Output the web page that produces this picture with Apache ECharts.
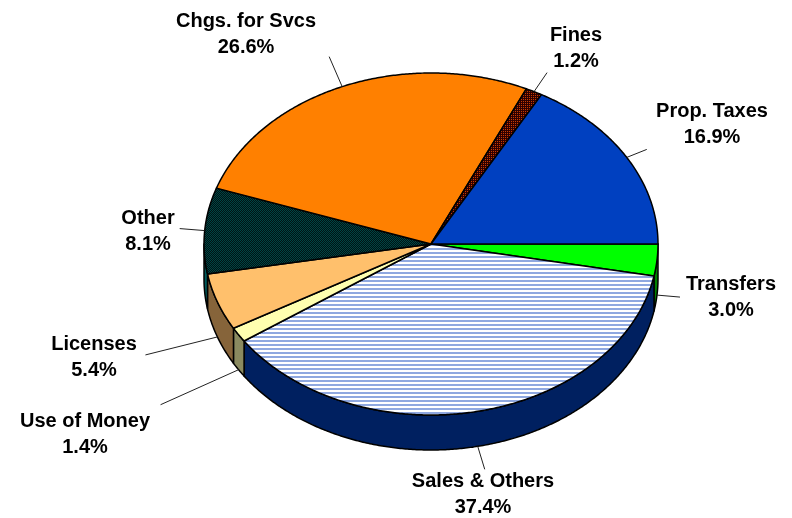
<!DOCTYPE html>
<html>
<head>
<meta charset="utf-8">
<style>html,body{margin:0;padding:0;background:#fff}#chart{width:792px;height:518px}</style>
<script src="https://cdn.jsdelivr.net/npm/echarts@6/dist/echarts.min.js"></script>
</head>
<body>
<div id="chart"></div>
<script>
// Revenue sources, clockwise from the east edge of the pie
const categories = ['Transfers', 'Sales & Others', 'Use of Money', 'Licenses', 'Other', 'Chgs. for Svcs', 'Fines', 'Prop. Taxes'];
const shares = [3.0, 37.4, 1.4, 5.4, 8.1, 26.6, 1.2, 16.9];

// Slice appearance
const sideColors = ['#008000', '#002060', '#8A8A60', '#86643A', '#005C5C', '#804000', '#601000', '#002080'];

// Label centres and the outer ends of the leader lines, in pixels
const labelCentres = [[731, 297], [483, 494], [85, 434], [94, 357], [148, 231], [246, 34], [576, 48], [712, 124]];
const leaderOffsets = [[23, 2], [7, 23], [-78, 35], [-72, 18], [-25, -2], [-13, -30], [13, -19], [20, -8]];

const DEPTH = 35;

function tile(size, paint) {
  const c = document.createElement('canvas');
  c.width = c.height = size;
  paint(c.getContext('2d'));
  return { image: c, repeat: 'repeat' };
}
const stripes = tile(4, g => {
  g.fillStyle = '#fff'; g.fillRect(0, 0, 4, 4);
  g.fillStyle = '#8FA8E0'; g.fillRect(0, 0, 4, 2);
});
const teal = tile(2, g => {
  g.fillStyle = '#001414'; g.fillRect(0, 0, 2, 2);
  g.fillStyle = '#004444'; g.fillRect(0, 0, 1, 1); g.fillRect(1, 1, 1, 1);
});
const hatch = tile(4, g => {
  g.fillStyle = '#C83C00'; g.fillRect(0, 0, 4, 4);
  g.fillStyle = '#300000'; g.fillRect(0, 0, 4, 1); g.fillRect(0, 2, 4, 1);
  g.fillRect(0, 0, 1, 4); g.fillRect(2, 0, 1, 4);
});
const topFills = ['#00FF00', stripes, '#FFFFB0', '#FFC06C', teal, '#FF8000', hatch, '#0040C0'];

const total = shares.reduce((a, b) => a + b, 0);
const starts = [];
shares.reduce((acc, v, i) => { starts[i] = acc; return acc + v; }, 0);
const toAngle = v => v / total * Math.PI * 2;

function renderSlice(params, api) {
  const i = params.dataIndex;
  const a0 = toAngle(starts[i]);
  const a1 = toAngle(starts[i] + api.value(0));
  const rim = a => api.coord([Math.cos(a), -Math.sin(a)]);
  const arc = (from, to) => {
    const n = Math.max(2, Math.ceil((to - from) / 0.008));
    const pts = [];
    for (let k = 0; k <= n; k++) pts.push(rim(from + (to - from) * k / n));
    return pts;
  };
  const children = [];

  // Outer wall: only the part of the slice on the near half of the rim shows
  const w1 = Math.min(a1, Math.PI);
  if (a0 < Math.PI) {
    const upper = arc(a0, w1);
    const lower = upper.map(p => [p[0], p[1] + DEPTH]).reverse();
    children.push({
      type: 'polygon',
      shape: { points: upper.concat(lower) },
      style: { fill: sideColors[i], stroke: '#000', lineWidth: 1.5, lineJoin: 'round' }
    });
  }

  // Top face
  children.push({
    type: 'polygon',
    shape: { points: [api.coord([0, 0])].concat(arc(a0, a1)) },
    style: { fill: topFills[i], stroke: '#000', lineWidth: 1.5, lineJoin: 'round' }
  });

  // Leader line starts on the visible edge at the slice's mid-angle
  const mid = (a0 + a1) / 2;
  const p = rim(mid);
  const y0 = p[1] + (mid < Math.PI ? DEPTH : 0);
  const off = leaderOffsets[i];
  children.push({
    type: 'line',
    shape: { x1: p[0], y1: y0, x2: p[0] + off[0], y2: y0 + off[1] },
    style: { stroke: '#222', lineWidth: 1 }
  });

  // Name and percentage
  children.push({
    type: 'text',
    x: labelCentres[i][0],
    y: labelCentres[i][1],
    style: {
      text: categories[i] + '\n' + api.value(0).toFixed(1) + '%',
      fill: '#000',
      font: 'bold 20px "Liberation Sans", Arial, sans-serif',
      lineHeight: 26,
      align: 'center',
      verticalAlign: 'middle'
    }
  });
  return { type: 'group', children };
}

const chart = echarts.init(document.getElementById('chart'), null, { renderer: 'canvas' });
chart.setOption({
  animation: false,
  backgroundColor: '#fff',
  grid: { left: 204, top: 73, width: 454, height: 342 },
  xAxis: { type: 'value', min: -1, max: 1, show: false },
  yAxis: { type: 'value', min: -1, max: 1, show: false },
  series: [{
    type: 'custom',
    coordinateSystem: 'cartesian2d',
    clip: false,
    silent: true,
    renderItem: renderSlice,
    encode: { x: 1, y: 2 },
    data: shares.map(v => [v, 0, 0])
  }]
});
</script>
</body>
</html>
